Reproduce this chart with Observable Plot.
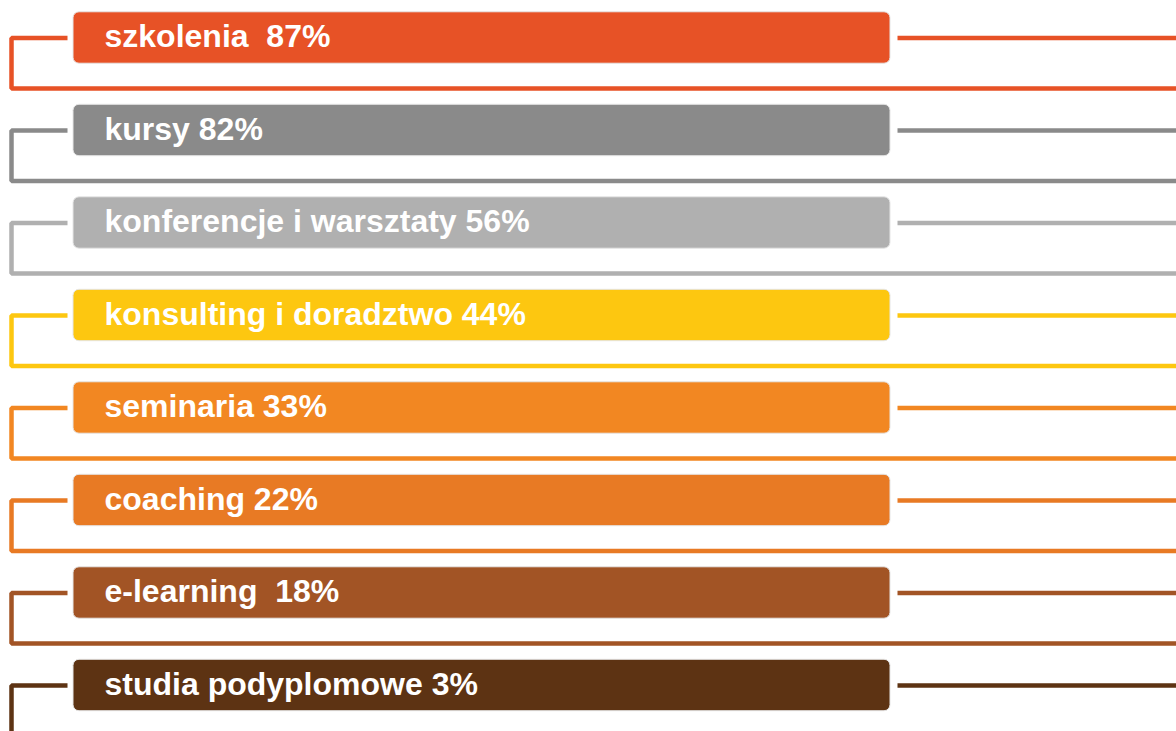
<!DOCTYPE html>
<html>
<head>
<meta charset="utf-8">
<script src="https://cdn.jsdelivr.net/npm/d3@7"></script>
<script src="https://cdn.jsdelivr.net/npm/@observablehq/plot@0.6"></script>
<style>
  html, body { margin: 0; padding: 0; background: #fff; overflow: hidden; }
  #chart svg { display: block; }
  #chart text { white-space: pre; }
</style>
</head>
<body>
<div id="chart"></div>
<script>
const categories = ["szkolenia", "kursy", "konferencje i warsztaty", "konsulting i doradztwo", "seminaria", "coaching", "e-learning", "studia podyplomowe"];
const values = [87, 82, 56, 44, 33, 22, 18, 3];
const separators = ["  ", " ", " ", " ", " ", " ", "  ", " "];
const colors = ["#E75226", "#8A8A8A", "#B0B0B0", "#FDC710", "#F28722", "#E87A24", "#A25425", "#5D3313"];

// layout (pixel units on a linear x scale; row units on y)
const W = 1176, H = 731;
const rowStep = 92.5, firstCenter = 37.5;
const barX1 = 73, barX2 = 890, barHalf = 0.278;
const leftX = 11, leftEnd = 67, rightStart = 897, loopDrop = 0.546;
const textX = 104;

const rows = categories.map((c, i) => ({
  i, category: c, value: values[i], color: colors[i],
  label: c + separators[i] + values[i] + "%"
}));

const leftPaths = rows.flatMap(r => [
  {row: r.i, x: leftEnd, y: r.i, color: r.color},
  {row: r.i, x: leftX, y: r.i, color: r.color},
  {row: r.i, x: leftX, y: r.i + loopDrop, color: r.color},
  {row: r.i, x: W, y: r.i + loopDrop, color: r.color}
]);
const rightPaths = rows.flatMap(r => [
  {row: r.i, x: rightStart, y: r.i, color: r.color},
  {row: r.i, x: W, y: r.i, color: r.color}
]);

const y0 = -firstCenter / rowStep;
const y1 = (H - firstCenter) / rowStep;

const chart = Plot.plot({
  width: W,
  height: H,
  margin: 0,
  x: {type: "linear", domain: [0, W], range: [0, W], axis: null},
  y: {type: "linear", domain: [y0, y1], range: [0, H], axis: null},
  style: {background: "#fff", fontFamily: "'Liberation Sans', Arial, sans-serif"},
  marks: [
    Plot.line(leftPaths, {x: "x", y: "y", z: "row", stroke: "color", strokeWidth: 4.5, strokeLinejoin: "miter", strokeLinecap: "butt", curve: "linear"}),
    Plot.line(rightPaths, {x: "x", y: "y", z: "row", stroke: "color", strokeWidth: 4.5, strokeLinecap: "butt"}),
    Plot.rect(rows, {x1: () => barX1, x2: () => barX2, y1: d => d.i - barHalf, y2: d => d.i + barHalf, fill: "color", stroke: "#e6e6e6", strokeWidth: 1, rx: 6}),
    Plot.text(rows, {x: () => textX, y: "i", dy: -1, text: "label", fill: "#fff", textAnchor: "start", fontSize: 32, fontWeight: "bold", letterSpacing: "0.5px", lineAnchor: "middle"})
  ]
});
document.getElementById("chart").appendChild(chart);
</script>
</body>
</html>
